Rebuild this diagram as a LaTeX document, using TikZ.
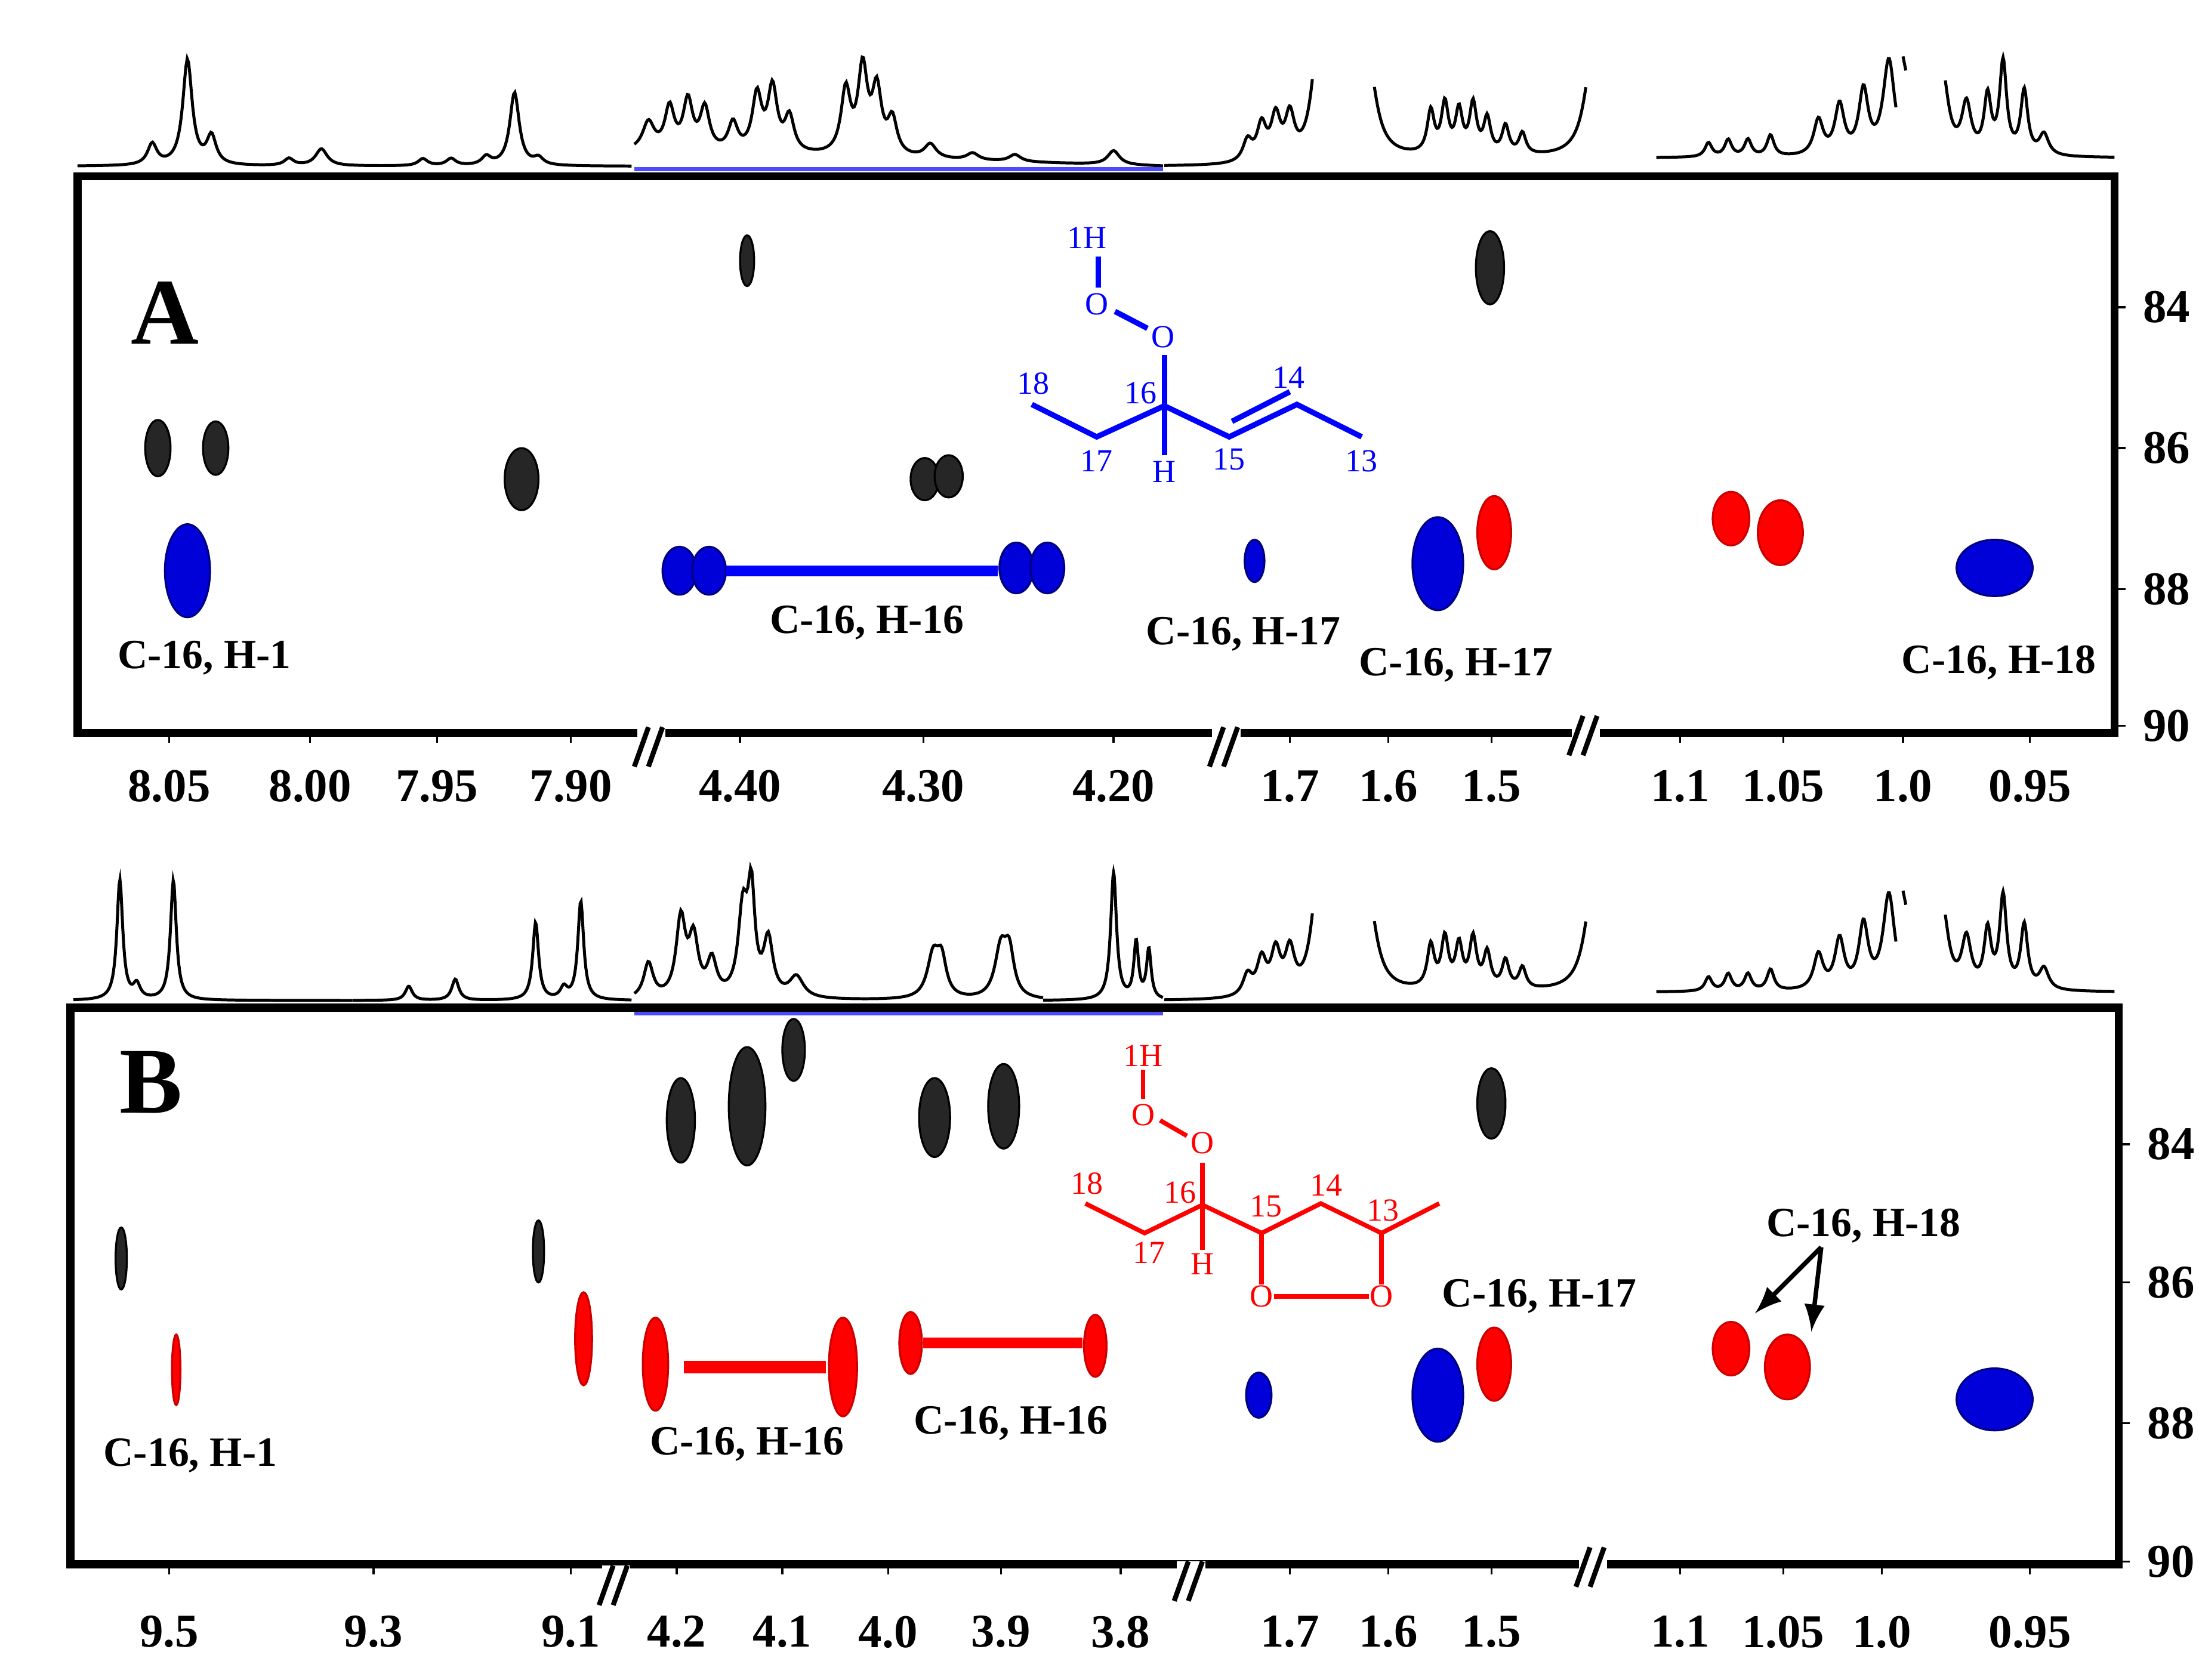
\documentclass[tikz,border=0pt]{standalone}
\usepackage{fontspec}
\setmainfont{Liberation Serif}
\begin{document}
\begin{tikzpicture}[x=0.1mm,y=-0.1mm,
  frame/.style={line width=1.6pt},
  spec/.style={line width=0.6pt},
  lab/.style={font=\bfseries\fontsize{8.4}{9}\selectfont},
  axl/.style={font=\bfseries\fontsize{9.5}{10}\selectfont},
  blk/.style={fill=black!85,draw=black},
  blu/.style={fill=blue!85!black,draw=blue!50!black},
  rd/.style={fill=red,draw=red!80!black},
  molA/.style={blue,line width=1.1pt},
  molB/.style={red,line width=0.9pt},
  mlA/.style={blue,font=\fontsize{6.5}{7}\selectfont,inner sep=0pt},
  mlB/.style={red,font=\fontsize{6.5}{7}\selectfont,inner sep=0pt}]
\useasboundingbox (0,0) rectangle (1560,1192);
\fill[white] (0,0) rectangle (1560,1192);

% ---------- spectra (macro with y shift) ----------
\newcommand{\specrow}[1]{%
\begin{scope}[shift={(0,#1)}]
\draw[spec] plot[domain=826:931,samples=150] (\x,{118-15/(1+((\x-885)/4)^2)-25/(1+((\x-895)/4)^2)-30/(1+((\x-905)/4)^2)-30/(1+((\x-915)/4)^2)-100/(1+((\x-936)/6)^2)});
\draw[spec] plot[domain=975:1125,samples=200] (\x,{112-75/(1+((\x-970)/7)^2)-75/(1+((\x-1130)/7)^2)-30/(1+((\x-1015)/3)^2)-35/(1+((\x-1025)/3)^2)-30/(1+((\x-1035)/3)^2)-35/(1+((\x-1045)/3)^2)-25/(1+((\x-1055)/3)^2)-20/(1+((\x-1068)/3)^2)-15/(1+((\x-1080)/3)^2)});
\draw[spec] plot[domain=1175:1345,samples=220] (\x,{112-10/(1+((\x-1212)/3)^2)-12/(1+((\x-1226)/3)^2)-12/(1+((\x-1240)/3)^2)-15/(1+((\x-1256)/3)^2)-25/(1+((\x-1290)/4)^2)-35/(1+((\x-1305)/4)^2)-45/(1+((\x-1322)/4)^2)-68/(1+((\x-1340)/5)^2)});
\draw[spec] plot[domain=1380:1500,samples=200] (\x,{112-60/(1+((\x-1378)/5)^2)-35/(1+((\x-1395)/4)^2)-40/(1+((\x-1410)/3)^2)-65/(1+((\x-1421)/3)^2)-45/(1+((\x-1436)/3)^2)-15/(1+((\x-1450)/4)^2)});
\draw[spec] (1350,40)--(1352,50);
\end{scope}}
% A seg 1,2 specific
\draw[spec] plot[domain=55:448,samples=400] (\x,{118-15/(1+((\x-108)/4)^2)-75/(1+((\x-133)/4)^2)-20/(1+((\x-150)/4)^2)-5/(1+((\x-205)/4)^2)-12/(1+((\x-228)/5)^2)-5/(1+((\x-300)/4)^2)-5/(1+((\x-320)/4)^2)-6/(1+((\x-345)/4)^2)-52/(1+((\x-365)/4)^2)-5/(1+((\x-382)/4)^2)});
\draw[spec] plot[domain=450:825,samples=400] (\x,{118-(10*(825-\x)/375)-20/(1+((\x-460)/5)^2)-30/(1+((\x-475)/4)^2)-35/(1+((\x-488)/4)^2)-30/(1+((\x-500)/4)^2)-20/(1+((\x-520)/4)^2)-40/(1+((\x-537)/4)^2)-45/(1+((\x-548)/4)^2)-25/(1+((\x-560)/4)^2)-45/(1+((\x-600)/4)^2)-60/(1+((\x-612)/4)^2)-45/(1+((\x-622)/4)^2)-25/(1+((\x-633)/4)^2)-10/(1+((\x-660)/5)^2)-5/(1+((\x-690)/5)^2)-5/(1+((\x-720)/5)^2)-10/(1+((\x-790)/5)^2)});
\specrow{0}
\draw[blue!70,line width=0.8pt] (450,120)--(825,120);
% B spectra
\draw[spec] plot[domain=52:250,samples=300] (\x,{710-85/(1+((\x-85)/2.5)^2)-10/(1+((\x-97)/3)^2)-85/(1+((\x-123)/2.5)^2)});
\draw[spec] plot[domain=250:448,samples=300] (\x,{710-10/(1+((\x-290)/3)^2)-15/(1+((\x-323)/3)^2)-55/(1+((\x-380)/2.5)^2)-8/(1+((\x-400)/3)^2)-70/(1+((\x-412)/2.5)^2)});
\draw[spec] plot[domain=450:740,samples=300] (\x,{710-25/(1+((\x-460)/4)^2)-55/(1+((\x-483)/4)^2)-40/(1+((\x-492)/4)^2)-25/(1+((\x-505)/4)^2)-60/(1+((\x-527)/4)^2)-70/(1+((\x-533)/3)^2)-40/(1+((\x-545)/4)^2)-15/(1+((\x-565)/6)^2)-30/(1+((\x-662)/5)^2)-25/(1+((\x-668)/4)^2)-35/(1+((\x-710)/5)^2)-30/(1+((\x-716)/4)^2)});
\draw[spec] plot[domain=740:825,samples=200] (\x,{710-90/(1+((\x-790)/2.5)^2)-40/(1+((\x-806)/2)^2)-35/(1+((\x-815)/2)^2)});
\specrow{592}
\draw[blue!70,line width=0.8pt] (450,719)--(825,719);

% ---------- frames ----------
\draw[frame] (55,125) rectangle (1500,520);
\draw[frame] (50,715) rectangle (1503,1110);
% right axes
\foreach \y/\t in {218/84,318/86,418/88,515/90} {\draw (1500,\y)--(1508,\y); \node[axl,anchor=west] (ra\t) at (1508,\y) {\t};}
\foreach \y/\t in {812/84,910/86,1010/88,1108/90} {\draw (1503,\y)--(1511,\y); \node[axl,anchor=west] (rb\t) at (1511,\y) {\t};}
% bottom axes
\foreach \x/\t [count=\i] in {120/8.05,220/8.00,310/7.95,405/7.90,525/4.40,655/4.30,790/4.20,915/1.7,985/1.6,1058/1.5,1192/1.1,1265/1.05,1350/1.0,1440/0.95}
 {\draw (\x,520)--(\x,527); \node[axl] (ba\i) at (\x,558) {\t};}
\foreach \x/\t [count=\i] in {120/9.5,265/9.3,405/9.1,480/4.2,555/4.1,630/4.0,710/3.9,795/3.8,915/1.7,985/1.6,1058/1.5,1192/1.1,1265/1.05,1335/1.0,1440/0.95}
 {\draw (\x,1110)--(\x,1117); \node[axl] (bb\i) at (\x,1158) {\t};}
% break marks
\foreach \x/\y in {462/530,870/530,1125/522,437/1125,845/1122,1130/1112}
 {\fill[white] (\x-10,\y-14) rectangle (\x+10,\y+14);
  \draw[line width=1pt] (\x-12,\y+14)--(\x-2,\y-14) (\x-2,\y+14)--(\x+8,\y-14);}

% ---------- panel letters ----------
\node[font=\bfseries\fontsize{19}{19}\selectfont] (pA) at (117,222) {A};
\node[font=\bfseries\fontsize{19}{19}\selectfont] (pB) at (107,768) {B};

% ---------- cross peaks A ----------
\foreach \x/\y/\a/\b in {530/185/5/18,112/318/9/20,153/318/9/19,370/340/12/22,656/340/10/15,673/338/10/15,1057/190/10/26}
 \draw[blk] (\x,\y) ellipse ({\a} and {\b});
\foreach \x/\y/\a/\b in {133/405/16/33,482/405/12/17,503/405/12/17,721/403/12/18,743/403/12/18,890/398/7/15,1020/400/18/33,1415/403/27/20}
 \draw[blu] (\x,\y) ellipse ({\a} and {\b});
\foreach \x/\y/\a/\b in {1060/378/12/26,1228/368/13/19,1263/378/16/23}
 \draw[rd] (\x,\y) ellipse ({\a} and {\b});
\coordinate (a16l) at (515,405); \coordinate (a16r) at (708,405);
\draw[blue,line width=2.2pt] (a16l)--(a16r);
\node[lab] (la1) at (145,467) {C-16, H-1};
\node[lab] (la2) at (615,442) {C-16, H-16};
\node[lab] (la3) at (882,450) {C-16, H-17};
\node[lab] (la4) at (1033,472) {C-16, H-17};
\node[lab] (la5) at (1418,470) {C-16, H-18};

% ---------- cross peaks B ----------
\foreach \x/\y/\a/\b in {483/795/10/30,530/785/13/42,563/745/8/22,663/793/11/28,712/785/11/30,1058/783/10/25,86/893/4/22,382/888/4/22}
 \draw[blk] (\x,\y) ellipse ({\a} and {\b});
\foreach \x/\y/\a/\b in {125/972/3/25,414/950/6/33,465/968/9/33,598/970/10/35,646/953/8/22,777/955/8/22,1060/968/12/26,1228/957/13/19,1268/970/16/23}
 \draw[rd] (\x,\y) ellipse ({\a} and {\b});
\foreach \x/\y/\a/\b in {893/990/9/16,1020/990/18/33,1415/993/27/22}
 \draw[blu] (\x,\y) ellipse ({\a} and {\b});
\coordinate (b16l) at (485,970); \coordinate (b16r) at (586,970);
\coordinate (b16l2) at (655,953); \coordinate (b16r2) at (768,953);
\draw[red,line width=2.6pt] (b16l)--(b16r);
\draw[red,line width=2.2pt] (b16l2)--(b16r2);
\node[lab] (lb1) at (135,1033) {C-16, H-1};
\node[lab] (lb2) at (530,1025) {C-16, H-16};
\node[lab] (lb3) at (717,1010) {C-16, H-16};
\node[lab] (lb4) at (1092,920) {C-16, H-17};
\node[lab] (lb5) at (1322,870) {C-16, H-18};
\coordinate (ar1) at (1245,932); \coordinate (ar2) at (1285,945); \coordinate (ars) at (1292,885);
\draw[-latex,line width=0.9pt] (ars)--(ar1);
\draw[-latex,line width=0.9pt] (ars)--(ar2);

% ---------- molecule A ----------
\node[mlA] (aH1) at (771,169) {1H};
\node[mlA] (aO1) at (778,216) {O};
\node[mlA] (aO2) at (825,239) {O};
\node[mlA] (aH) at (826,335) {H};
\node[mlA] (a18) at (733,272) {18};
\node[mlA] (a16) at (809,279) {16};
\node[mlA] (a17) at (778,327) {17};
\node[mlA] (a15) at (872,326) {15};
\node[mlA] (a14) at (914,268) {14};
\node[mlA] (a13) at (966,327) {13};
\coordinate (aC18) at (732,287); \coordinate (aC17) at (778,310);
\coordinate (aC16) at (826,288); \coordinate (aC15) at (872,310);
\coordinate (aC14) at (920,287); \coordinate (aC13) at (966,310);
\draw[molA] (779,182)--(779,204);
\draw[molA] (791,221)--(814,233);
\draw[molA] (826,252)--(826,323);
\draw[molA] (aC18)--(aC17)--(aC16)--(aC15)--(aC14)--(aC13);
\draw[molA] (874,299)--(915,278);

% ---------- molecule B ----------
\node[mlB] (bH1) at (811,749) {1H};
\node[mlB] (bO1) at (811,791) {O};
\node[mlB] (bO2) at (853,811) {O};
\node[mlB] (bH) at (853,897) {H};
\node[mlB] (b18) at (771,840) {18};
\node[mlB] (b16) at (837,846) {16};
\node[mlB] (b17) at (815,889) {17};
\node[mlB] (b15) at (898,856) {15};
\node[mlB] (b14) at (941,841) {14};
\node[mlB] (b13) at (981,859) {13};
\node[mlB] (bO3) at (895,920) {O};
\node[mlB] (bO4) at (980,920) {O};
\coordinate (bC18) at (770,854); \coordinate (bC17) at (812,875);
\coordinate (bC16) at (853,855); \coordinate (bC15) at (895,875);
\coordinate (bC14) at (937,854); \coordinate (bC13) at (980,875);
\coordinate (bCm) at (1021,854);
\draw[molB] (811,759)--(811,780);
\draw[molB] (823,795)--(842,806);
\draw[molB] (853,825)--(853,887);
\draw[molB] (bC18)--(bC17)--(bC16)--(bC15)--(bC14)--(bC13)--(bCm);
\draw[molB] (bC15)--(bO3.north);
\draw[molB] (bC13)--(bO4.north);
\draw[molB] (bO3)--(bO4);
\end{tikzpicture}
\end{document}
